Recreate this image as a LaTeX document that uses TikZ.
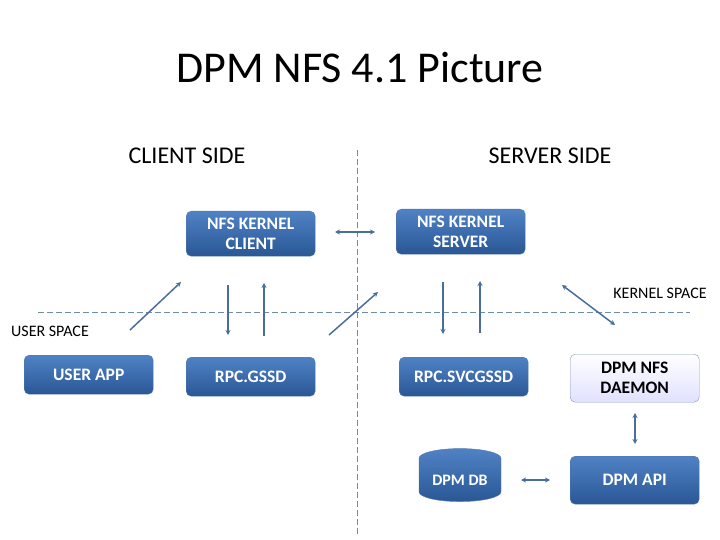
\documentclass[tikz,border=0pt]{standalone}
\usepackage{fontspec}
\setmainfont{Carlito}
\usetikzlibrary{shapes.geometric,arrows.meta}
\definecolor{bxtop}{HTML}{4F82C4}
\definecolor{bxbot}{HTML}{2A5796}
\definecolor{ln}{HTML}{4A6E9C}
\begin{document}
\begin{tikzpicture}[x=1pt,y=-1pt,
  box/.style={draw=bxbot!80!white,rounded corners=5pt,top color=bxtop,bottom color=bxbot,text=white,font=\fontsize{17.5}{20}\selectfont\bfseries,align=center,anchor=north west,inner sep=0pt},
  lbox/.style={draw=ln!70!white,rounded corners=5pt,top color=white,bottom color=blue!12!white,text=black,font=\fontsize{17.5}{20}\selectfont\bfseries,align=center,anchor=north west,inner sep=0pt},
  ar/.style={draw=ln,line width=1.5pt,-{Stealth[length=5pt,width=5pt]}},
  dar/.style={draw=ln,line width=1.5pt,{Stealth[length=5pt,width=5pt]}-{Stealth[length=5pt,width=5pt]}},
  dline/.style={draw=ln!80!white,dash pattern=on 6pt off 3pt,line width=0.6pt},
  lab/.style={font=\fontsize{24}{28}\selectfont}]
\useasboundingbox (0,0) rectangle (720,540);
\node (title) at (360,68) {\fontsize{44}{50}\selectfont DPM NFS 4.1 Picture};
\node[lab] (cs) at (187,156) {CLIENT SIDE};
\node[lab] (ss) at (550,156) {SERVER SIDE};
\coordinate (vt) at (357,150); \coordinate (vb) at (357,535);
\coordinate (hl) at (38,312); \coordinate (hr) at (690,312);
\draw[dline] (vt) -- (vb);
\draw[dline] (hl) -- (hr);
\node[font=\fontsize{16}{18}\selectfont] (ks) at (660,293) {KERNEL SPACE};
\node[font=\fontsize{16}{18}\selectfont] (us) at (50,331) {USER SPACE};
\node[box,minimum width=129pt,minimum height=45pt] (nkc) at (186,211) {NFS KERNEL\\CLIENT};
\node[box,minimum width=129pt,minimum height=45pt] (nks) at (396,209) {NFS KERNEL\\SERVER};
\node[box,minimum width=129pt,minimum height=39pt] (ua) at (24,355) {USER APP};
\node[box,minimum width=129pt,minimum height=39pt] (gssd) at (186,357) {RPC.GSSD};
\node[box,minimum width=129pt,minimum height=39pt] (svc) at (399,357) {RPC.SVCGSSD};
\node[lbox,minimum width=129pt,minimum height=48pt] (dmn) at (570,354) {DPM NFS\\DAEMON};
\node[box,minimum width=129pt,minimum height=48pt] (api) at (570,456) {DPM API};
\node[cylinder,shape border rotate=90,draw=bxbot!80!white,top color=bxtop,bottom color=bxbot,text=white,font=\fontsize{16}{18}\selectfont\bfseries,minimum width=82pt,minimum height=53pt,aspect=0.35,inner sep=0pt] (db) at (460,480) {\raisebox{-6pt}{DPM DB}};
\coordinate (a1s) at (130,330); \coordinate (a1e) at (181,282);
\draw[ar] (a1s) -- (a1e);
\coordinate (a2s) at (228,285); \coordinate (a2e) at (228,335);
\draw[ar] (a2s) -- (a2e);
\coordinate (a3s) at (264,336); \coordinate (a3e) at (264,283);
\draw[ar] (a3s) -- (a3e);
\coordinate (a4s) at (329,335); \coordinate (a4e) at (378,292);
\draw[ar] (a4s) -- (a4e);
\coordinate (a5s) at (335,232); \coordinate (a5e) at (375,232);
\draw[dar] (a5s) -- (a5e);
\coordinate (a6s) at (443,282); \coordinate (a6e) at (443,334);
\draw[ar] (a6s) -- (a6e);
\coordinate (a7s) at (480,333); \coordinate (a7e) at (480,281);
\draw[ar] (a7s) -- (a7e);
\coordinate (a8s) at (562,285); \coordinate (a8e) at (615,325);
\draw[dar] (a8s) -- (a8e);
\coordinate (d1) at (635,413); \coordinate (d2) at (635,444);
\draw[dar] (d1) -- (d2);
\coordinate (e1) at (521,480); \coordinate (e2) at (550,480);
\draw[dar] (e1) -- (e2);
\end{tikzpicture}
\end{document}
